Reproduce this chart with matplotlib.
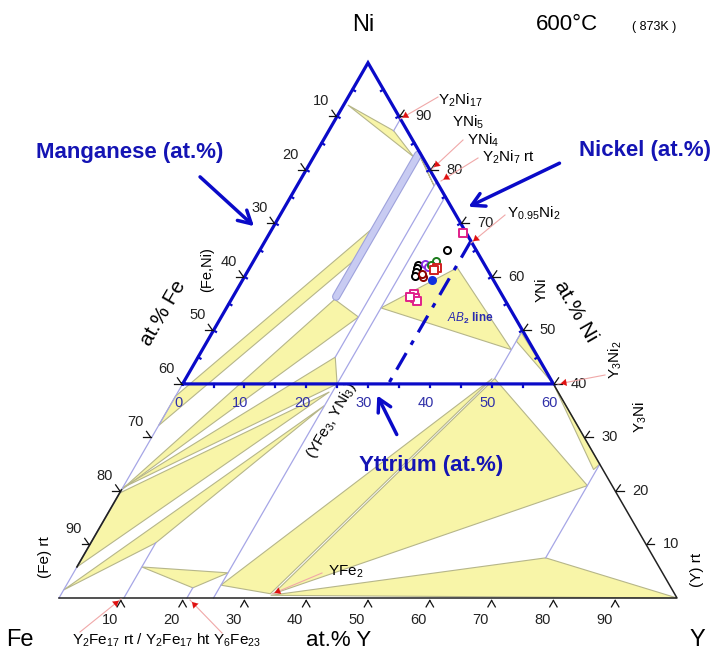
import numpy as np
import matplotlib.pyplot as plt
from matplotlib.patches import Polygon, FancyArrowPatch

plt.rcParams['font.family'] = ['Liberation Sans', 'DejaVu Sans']
plt.rcParams['mathtext.fontset'] = 'custom'
plt.rcParams['mathtext.rm'] = 'Liberation Sans'
plt.rcParams['mathtext.it'] = 'Liberation Sans:italic'
plt.rcParams['mathtext.bf'] = 'Liberation Sans:bold'

# ---- data: compositions as (at.% Y, at.% Ni), Fe = rest
top_sliver = [(0.7, 92.1), (10.5, 87.3), (16.2, 82.4)]
ni5_strip = [(16.7, 83.0), (17.4, 82.3), (22.2, 77.0)]
ab2_tri = [(25.0, 54.2), (33.6, 61.7), (50.0, 46.4)]
fan_top = [(0, 32.2), (16.7, 64.0), (16.7, 70.0), (0, 37.7)]
fan_gamma = [(0, 20.2), (16.7, 55.8), (22.2, 52.5)]
fan_c = [(0, 20.6), (22.2, 45.0), (25.0, 40.0)]
fan_b = [(0, 5.8), (0, 19.6), (24.5, 38.5)]
fan_a = [(0, 1.5), (10.5, 10.3), (25.0, 36.0)]
fe_small = [(10.5, 5.8), (20.7, 1.9), (25.0, 4.7)]
yfe_tri1 = [(25.0, 2.4), (33.8, 0.8), (49.6, 41.0)]
yfe_tri2 = [(34.3, 0.8), (50.0, 41.0), (75.0, 21.0)]
yfe_tri3 = [(34.0, 0.5), (75.0, 7.5), (100.0, 0.0)]
yni_sliver = [(50.0, 49.6), (60.0, 40.0), (50.0, 48.0)]
y3ni2_sliver = [(60.0, 40.0), (75.0, 25.0), (74.5, 24.0)]
yellow_regions = [top_sliver, ni5_strip, ab2_tri, fan_top, fan_gamma, fan_c,
                  fan_b, fan_a, fe_small, yfe_tri1, yfe_tri2, yfe_tri3,
                  yni_sliver, y3ni2_sliver]

yni5_band = [(16.7, 82.8), (16.7, 56.3)]     # Y(Ni,Fe)5 solid solution

phase_lines = [
    [(10.5, 89.5), (10.5, 87.3)],   # Y2Ni17
    [(10.5, 0.0), (10.5, 10.3)],    # Y2Fe17
    [(20.7, 0.0), (20.7, 1.9)],     # Y6Fe23
    [(25.0, 0.0), (25.0, 75.0)],    # (YFe3, YNi3)
    [(22.2, 77.8), (22.2, 45.0)],   # Y2Ni7
    [(50.0, 41.0), (50.0, 50.0)],   # YNi
    [(75.0, 7.5), (75.0, 25.0)],    # Y3Ni
    [(0.0, 0.0), (0.0, 40.0)],      # Fe-Ni edge
]
fe_rt = [(0.0, 5.8), (0.0, 20.2)]
ab2_line = [(33.3, 66.7), (33.3, 40.0)]

# measured alloys (Y, Ni)
pts_black = [(27.0, 62.3), (27.1, 61.6), (27.3, 60.9), (27.5, 60.2), (30.3, 65.0)]
pts_purple = [(28.1, 62.4), (28.7, 61.9)]
pts_green = [(29.5, 62.9), (29.1, 62.3)]
pts_red = [(30.4, 61.6), (30.0, 61.2)]
pts_darkred = [(28.9, 60.0), (28.5, 60.6)]
pts_blue = [(30.7, 59.4)]
pts_pink = [(29.0, 56.8), (29.6, 56.1), (30.2, 55.4), (28.6, 56.3), (31.3, 68.2)]

fe_ticks = [10, 20, 30, 40, 50, 60, 70, 80, 90]
ni_ticks = [90, 80, 70, 60, 50, 40, 30, 20, 10]
y_ticks = [10, 20, 30, 40, 50, 60, 70, 80, 90]
sub_y_ticks = [0, 10, 20, 30, 40, 50, 60]

H = np.sqrt(3) / 2


def tern(pts):
    a = np.array(pts, dtype=float)
    return a[:, 0] + a[:, 1] / 2, a[:, 1] * H


def px(x, y):
    # picture pixel -> axes data
    return (x - 59) / 6.18, (598 - y) / 6.18


fig = plt.figure(figsize=(7.15, 6.53), dpi=100)
ax = fig.add_axes([0, 0, 1, 1])
ax.set_xlim(-59 / 6.18, 656 / 6.18)
ax.set_ylim(-55 / 6.18, 598 / 6.18)
ax.axis('off')

YEL = '#f8f5a8'
OLV = '#b6b68a'
LBL = '#a6a6e6'
BLUE = '#0a0ac8'

for reg in yellow_regions:
    x, y = tern(reg)
    ax.add_patch(Polygon(np.c_[x, y], closed=True, fc=YEL, ec=OLV, lw=0.8, zorder=2))

for ln in phase_lines:
    x, y = tern(ln)
    ax.plot(x, y, color=LBL, lw=0.9, zorder=3)

x, y = tern(yni5_band)
ax.plot(x, y, color='#9ea2dc', lw=6.0, solid_capstyle='round', zorder=3)
ax.plot(x, y, color='#c8cbf2', lw=4.4, solid_capstyle='round', zorder=3)

# outer triangle (lower part)
x, y = tern([(0, 0), (100, 0), (60, 40)])
ax.plot(x, y, color='#222222', lw=1.1, zorder=4)
x, y = tern(fe_rt)
ax.plot(x, y, color='#222222', lw=1.2, zorder=4)

# blue sub-triangle Ni >= 40
x, y = tern([(0, 40), (0, 100), (60, 40), (0, 40)])
ax.plot(x, y, color=BLUE, lw=2.3, zorder=6, solid_joinstyle='miter')
for v in range(5, 60, 5):
    bx, by = tern([(v, 40)])
    ax.plot([bx[0], bx[0]], [by[0] - 0.45, by[0]], color=BLUE, lw=1.6, zorder=6)
for v in range(45, 100, 5):
    lx, ly = tern([(0, v)])
    ax.plot([lx[0], lx[0] + 0.4], [ly[0], ly[0] - 0.23], color=BLUE, lw=1.6, zorder=6)
    rx, ry = tern([(100 - v, v)])
    ax.plot([rx[0], rx[0] - 0.4], [ry[0], ry[0] - 0.23], color=BLUE, lw=1.6, zorder=6)

x, y = tern(ab2_line)
ax.plot(x, y, color=BLUE, lw=2.3, ls=(0, (6, 3, 1.5, 3)), zorder=6)

# chevron ticks
L = 1.2


def chevron(x0, y0, a1, a2, col):
    for a in (a1, a2):
        r = np.radians(a)
        ax.plot([x0, x0 + L * np.cos(r)], [y0, y0 + L * np.sin(r)], color=col, lw=0.9, zorder=7)


for f in fe_ticks:
    x, y = tern([(0, 100 - f)])
    chevron(x[0] - 0.15, y[0], 180, 125, '#111111')
    tx, ty = x[0] - 16 / 6.18, y[0] + 15 / 6.18
    ax.text(tx, ty, str(f), ha='center', va='center', fontsize=10.5, color='#222222')
for n in ni_ticks:
    x, y = tern([(100 - n, n)])
    chevron(x[0] + 0.15, y[0], 0, 55, '#111111')
    ax.text(x[0] + 25 / 6.18, y[0], str(n), ha='center', va='center', fontsize=10.5, color='#222222')
for t in y_ticks:
    x, y = tern([(t, 0)])
    chevron(x[0], y[0] - 0.4, -60, -120, '#111111')
    ax.text(x[0] - 11 / 6.18, y[0] - 22 / 6.18, str(t), ha='center', va='center',
            fontsize=10.5, color='#222222')
for t in sub_y_ticks:
    x, y = tern([(t, 40)])
    ax.text(x[0] - 4 / 6.18, y[0] - 19 / 6.18, str(t), ha='center', va='center',
            fontsize=10.5, color='#3030a8')

# measured points
for pts, mk, ec, fc in [(pts_black, 'o', 'black', 'white'), (pts_purple, 'o', '#8a2be2', 'white'),
                        (pts_green, 'o', '#1a7a1a', 'white'), (pts_red, 's', '#d02020', 'white'),
                        (pts_darkred, 'o', '#8b0000', 'white'), (pts_blue, 'o', '#1030e0', '#1030e0'),
                        (pts_pink, 's', '#e0208a', 'white')]:
    x, y = tern(pts)
    ax.scatter(x, y, s=26, marker=mk, facecolors=fc, edgecolors=ec, linewidths=1.4, zorder=8)


# texts
def T(x, y, s, **kw):
    kw.setdefault('ha', 'center')
    kw.setdefault('va', 'center')
    ax.text(*px(x, y), s, **kw)


T(363, 25, 'Ni', fontsize=17)
T(20, 640, 'Fe', fontsize=17)
T(697, 640, 'Y', fontsize=17)
T(567, 24, '600°C', fontsize=16)
T(654, 27, '( 873K )', fontsize=9)
T(130, 152, 'Manganese (at.%)', fontsize=16, fontweight='bold', color='#1414b4')
T(645, 150, 'Nickel (at.%)', fontsize=16, fontweight='bold', color='#1414b4')
T(431, 465, 'Yttrium (at.%)', fontsize=16, fontweight='bold', color='#1414b4')
T(470, 318, r'$\mathbf{\mathit{AB}}_\mathbf{2}$ line', fontsize=8.5, fontweight='bold', color='#2a2ab0')
T(163, 313, 'at.% Fe', fontsize=15, rotation=60)
T(207, 270, '(Fe,Ni)', fontsize=10.5, rotation=90)
T(576, 311, 'at.% Ni', fontsize=15, rotation=-60)
T(542, 290, 'YNi', fontsize=11, rotation=90)
T(615, 360, r'Y$_3$Ni$_2$', fontsize=11, rotation=90)
T(640, 417, r'Y$_3$Ni', fontsize=11, rotation=90)
T(697, 570, '(Y) rt', fontsize=11, rotation=90)
T(45, 557, '(Fe) rt', fontsize=11, rotation=90)
T(332, 421, r'(YFe$_3$, YNi$_3$)', fontsize=11, rotation=60)
T(339, 640, 'at.% Y', fontsize=16)
T(72, 640, r'Y$_2$Fe$_{17}$ rt / Y$_2$Fe$_{17}$ ht Y$_6$Fe$_{23}$', fontsize=11, ha='left')
T(328, 572, r'YFe$_2$', fontsize=11, ha='left')
T(438, 100, r'Y$_2$Ni$_{17}$', fontsize=11, ha='left')
T(452, 122, r'YNi$_5$', fontsize=11, ha='left')
T(467, 140, r'YNi$_4$', fontsize=11, ha='left')
T(482, 157, r'Y$_2$Ni$_7$ rt', fontsize=11, ha='left')
T(507, 213, r'Y$_{0.95}$Ni$_2$', fontsize=11, ha='left')

# pink pointer lines with red heads
for (x0, y0), (x1, y1) in [((438, 97), (400, 119)), ((463, 140), (432, 169)),
                           ((478, 158), (441, 181)), ((505, 215), (471, 243)),
                           ((605, 375), (558, 384)), ((80, 632), (121, 599)),
                           ((222, 633), (190, 600)), ((322, 573), (272, 594))]:
    a, b = px(x0, y0)
    c, d = px(x1, y1)
    ax.plot([a, c], [b, d], color='#f0a8a8', lw=0.8, zorder=7)
    ax.add_patch(FancyArrowPatch((c + (a - c) * 0.18, d + (b - d) * 0.18), (c, d),
                                 arrowstyle='-|>,head_length=4,head_width=2.5',
                                 color='#e01010', lw=0.1, zorder=9))

# big blue arrows
for (x0, y0), (x1, y1) in [((198, 175), (256, 228)), ((562, 162), (466, 208)),
                           ((398, 437), (376, 393))]:
    ax.annotate('', xy=px(x1, y1), xytext=px(x0, y0),
                arrowprops=dict(arrowstyle='->,head_length=0.9,head_width=0.5',
                                color=BLUE, lw=2.5), zorder=9)

fig.savefig('out.png', dpi=100)
